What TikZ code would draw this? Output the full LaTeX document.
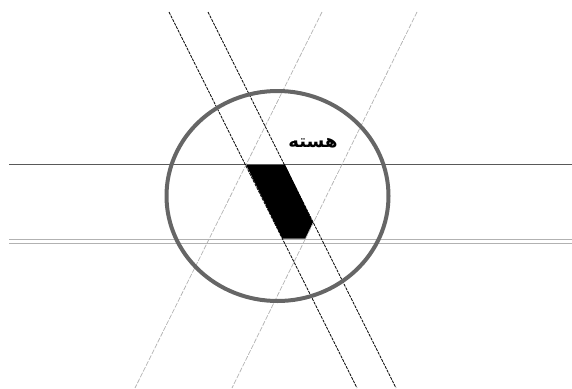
\documentclass[tikz,border=0pt]{standalone}
\usepackage{fontspec}
\newfontfamily\arabicfont[Script=Arabic]{DejaVu Sans}
\TeXXeTstate=1
\begin{document}
\begin{tikzpicture}[x=1pt,y=-1pt,
  darkdash/.style={black,line width=0.7pt,dash pattern=on 3pt off 1pt},
  lightdash/.style={black!30,line width=0.7pt,dash pattern=on 5pt off 1.5pt},
  ring/.style={draw=black!60,line width=4pt},
  hline/.style={black!65,line width=1pt},
  dline/.style={black!30,line width=0.9pt}]
\useasboundingbox (0,0) rectangle (572,388);
% core polygon
\fill[black] (246,164.5) -- (285,164.5) -- (313,222.4) -- (305.5,238.5) -- (282.3,238.5) -- cycle;
% horizontal lines
\draw[hline] (9,164) -- (572,164);
\draw[dline] (9,239) -- (572,239);
\draw[dline] (9,243) -- (572,243);
% slanted lines
\coordinate (a1) at (169,12); \coordinate (a2) at (357,388);
\coordinate (b1) at (208,12); \coordinate (b2) at (396,388);
\coordinate (c1) at (322,12); \coordinate (c2) at (135,388);
\coordinate (d1) at (417,12); \coordinate (d2) at (232,388);
\draw[lightdash] (c1) -- (c2);
\draw[lightdash] (d1) -- (d2);
\draw[darkdash] (a1) -- (a2);
\draw[darkdash] (b1) -- (b2);
% circle
\draw[ring] (277.5,196) ellipse [x radius=111, y radius=105];
\node[font=\arabicfont\bfseries\fontsize{18}{20}\selectfont,inner sep=0pt] (core) at (313,143) {\beginR هسته\endR};
\end{tikzpicture}
\end{document}
